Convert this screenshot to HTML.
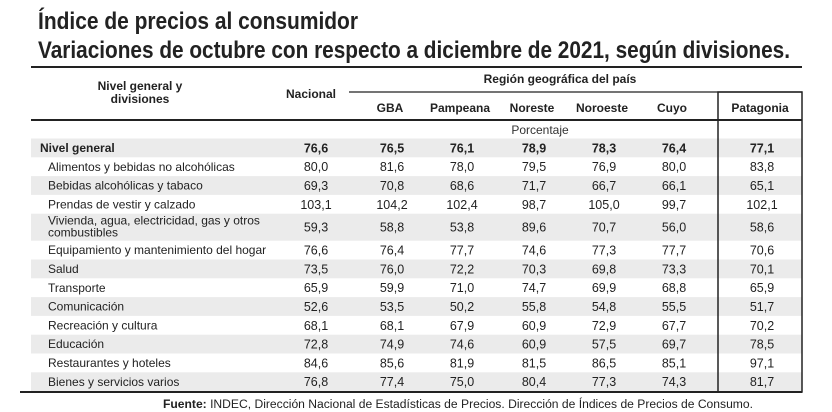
<!DOCTYPE html>
<html><head><meta charset="utf-8"><style>
html,body{margin:0;padding:0;background:#fff;width:832px;height:412px;overflow:hidden}
svg{display:block;font-family:"Liberation Sans Narrow","Liberation Sans",sans-serif}
</style></head><body>
<svg id="t" width="832" height="412" viewBox="0 0 832 412" xmlns="http://www.w3.org/2000/svg">
<text x="38" y="29" font-size="24" font-weight="bold" fill="#222" textLength="320" lengthAdjust="spacingAndGlyphs">Índice de precios al consumidor</text>
<text x="38" y="58" font-size="24" font-weight="bold" fill="#222" textLength="752" lengthAdjust="spacingAndGlyphs">Variaciones de octubre con respecto a diciembre de 2021, según divisiones.</text>
<line x1="31" y1="67" x2="802" y2="67" stroke="#222" stroke-width="2"/>
<text x="140" y="90" font-size="12" font-weight="bold" text-anchor="middle" fill="#222">Nivel general y</text>
<text x="140" y="103" font-size="12" font-weight="bold" text-anchor="middle" fill="#222">divisiones</text>
<text x="311" y="98" font-size="12" font-weight="bold" text-anchor="middle" fill="#222">Nacional</text>
<text x="560" y="83" font-size="12" font-weight="bold" text-anchor="middle" fill="#222">Región geográfica del país</text>
<line x1="349" y1="92" x2="802" y2="92" stroke="#222" stroke-width="1.2"/>
<line x1="31" y1="120" x2="802" y2="120" stroke="#222" stroke-width="2"/>
<text x="540" y="134" font-size="12" text-anchor="middle" fill="#333">Porcentaje</text>
<g id="rows"></g>
<rect x="718" y="92" width="84" height="300" fill="none" stroke="#222" stroke-width="1.5"/>
<line x1="20" y1="392" x2="802" y2="392" stroke="#222" stroke-width="2"/>
<text x="458" y="408" font-size="11.5" text-anchor="middle" fill="#222" textLength="590" lengthAdjust="spacingAndGlyphs"><tspan font-weight="bold">Fuente:</tspan> INDEC, Dirección Nacional de Estadísticas de Precios. Dirección de Índices de Precios de Consumo.</text>
</svg>
<script>
const columns=["Nacional","GBA","Pampeana","Noreste","Noroeste","Cuyo","Patagonia"];
const divisions=["Nivel general","Alimentos y bebidas no alcohólicas","Bebidas alcohólicas y tabaco","Prendas de vestir y calzado","Vivienda, agua, electricidad, gas y otros|combustibles","Equipamiento y mantenimiento del hogar","Salud","Transporte","Comunicación","Recreación y cultura","Educación","Restaurantes y hoteles","Bienes y servicios varios"];
const nacional=[76.6,80.0,69.3,103.1,59.3,76.6,73.5,65.9,52.6,68.1,72.8,84.6,76.8];
const gba=[76.5,81.6,70.8,104.2,58.8,76.4,76.0,59.9,53.5,68.1,74.9,85.6,77.4];
const pampeana=[76.1,78.0,68.6,102.4,53.8,77.7,72.2,71.0,50.2,67.9,74.6,81.9,75.0];
const noreste=[78.9,79.5,71.7,98.7,89.6,74.6,70.3,74.7,55.8,60.9,60.9,81.5,80.4];
const noroeste=[78.3,76.9,66.7,105.0,70.7,77.3,69.8,69.9,54.8,72.9,57.5,86.5,77.3];
const cuyo=[76.4,80.0,66.1,99.7,56.0,77.7,73.3,68.8,55.5,67.7,69.7,85.1,74.3];
const patagonia=[77.1,83.8,65.1,102.1,58.6,70.6,70.1,65.9,51.7,70.2,78.5,97.1,81.7];
const series=[nacional,gba,pampeana,noreste,noroeste,cuyo,patagonia];
const NS="http://www.w3.org/2000/svg";
const svg=document.getElementById('t');
const g=document.getElementById('rows');
const colX=[316,392,462,534,604,674,762];
function mk(tag,attrs){const e=document.createElementNS(NS,tag);for(const k in attrs)e.setAttribute(k,attrs[k]);return e;}
columns.slice(1).forEach((c,i)=>{
  const t=mk('text',{x:colX[i+1]-2,y:112,'font-size':12,'font-weight':'bold','text-anchor':'middle',fill:'#222'});
  
  
  t.textContent=c;svg.insertBefore(t,g);
});
let y=138.5;
divisions.forEach((d,r)=>{
  const lines=d.split('|');
  const h=lines.length>1?27:18.8;
  if(r%2===0){
    const bg=mk('rect',{x:31,y:y,width:771,height:h,fill:'#ebebeb'});
    
    
    g.appendChild(bg);
  }
  const bold=r===0;
  const lx=bold?40:48;
  lines.forEach((ln,k)=>{
    const t=mk('text',{x:lx,y:lines.length>1?y+11+k*12:y+13.5,'font-size':12,fill:'#222','font-weight':bold?'bold':'normal'});
    
    
    t.textContent=ln;g.appendChild(t);
  });
  series.forEach((s,c)=>{
    const t=mk('text',{x:colX[c],y:y+h/2+4.5,'font-size':12.5,'text-anchor':'middle',fill:'#222','font-weight':bold?'bold':'normal'});
    
    
    t.textContent=s[r].toFixed(1).replace('.',',');g.appendChild(t);
  });
  y+=h;
});
</script>
</body></html>
